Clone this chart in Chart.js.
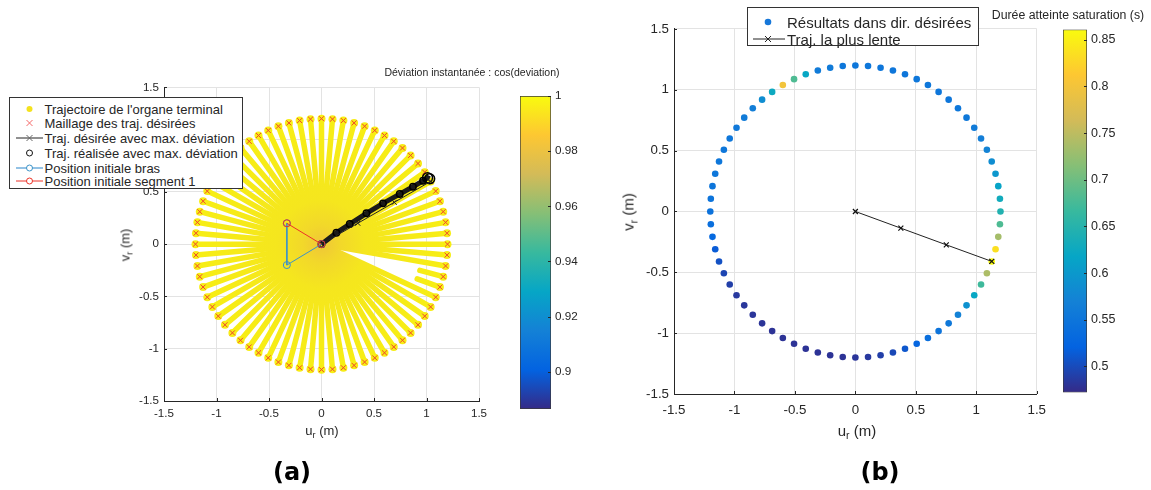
<!DOCTYPE html>
<html>
<head>
<meta charset="utf-8">
<script src="https://cdn.jsdelivr.net/npm/chart.js@4.4.1/dist/chart.umd.min.js"></script>
<style>
  body { margin: 0; background: #fff; }
  #fig { position: relative; width: 1151px; height: 490px; overflow: hidden; background: #fff;
         font-family: "Liberation Sans", Arial, sans-serif; color: #262626; }
  #fig canvas { position: absolute; }
  .txt { position: absolute; white-space: nowrap; line-height: 1; }
  .legend { position: absolute; background: #fff; border: 1px solid #333; box-sizing: border-box; z-index: 5; }
  .legend .row { position: absolute; left: 0; right: 0; }
  .legend svg { position: absolute; left: 0; }
  .legend span { position: absolute; white-space: nowrap; line-height: 1; transform: translateY(-50%); }
  sub { font-size: 70%; vertical-align: -0.35em; line-height: 0; }
  .panel { position: absolute; font-family: "DejaVu Sans", sans-serif; font-weight: bold; font-size: 24px;
           transform: translate(-50%, -50%); color: #000; }
</style>
</head>
<body>
<div id="fig">
  <canvas id="axA" width="370" height="351" style="left:124px;top:75px"></canvas>
  <canvas id="cbA" width="76" height="335" style="left:520px;top:85px"></canvas>
  <canvas id="axB" width="420" height="406" style="left:634px;top:16px"></canvas>
  <canvas id="cbB" width="84" height="386" style="left:1063px;top:18px"></canvas>

  <div class="txt" style="left:472px;top:72px;font-size:10.5px;transform:translate(-50%,-50%)">Déviation instantanée : cos(deviation)</div>
  <div class="txt" style="left:1068px;top:15px;font-size:12.3px;transform:translate(-50%,-50%)">Durée atteinte saturation (s)</div>

  <div class="txt" style="left:322px;top:430px;font-size:13px;transform:translate(-50%,-50%)">u<sub>r</sub> (m)</div>
  <div class="txt" style="left:125px;top:245px;font-size:13px;transform:translate(-50%,-50%) rotate(-90deg)">v<sub>r</sub> (m)</div>
  <div class="txt" style="left:857px;top:430px;font-size:15px;transform:translate(-50%,-50%)">u<sub>r</sub> (m)</div>
  <div class="txt" style="left:628px;top:212px;font-size:15px;transform:translate(-50%,-50%) rotate(-90deg)">v<sub>r</sub> (m)</div>

  <div class="panel" style="left:292px;top:472px">(a)</div>
  <div class="panel" style="left:880px;top:472px">(b)</div>

  <div class="legend" id="legA" style="left:9px;top:97px;width:234px;height:92px;font-size:13px"></div>
  <div class="legend" id="legB" style="left:747px;top:7px;width:232px;height:39px;font-size:15px"></div>
</div>

<script>
// ---- data ----
const axisTicks = [-1.5, -1, -0.5, 0, 0.5, 1, 1.5];
const axisTickLabels = ['-1.5', '-1', '-0.5', '0', '0.5', '1', '1.5'];

// directions of the desired trajectories (deg) and radius of the mesh
const dirAngles = [0, 5, 10, 15, 20, 25, 30, 35, 40, 45, 50, 55, 60, 65, 70, 75, 80, 85,
  90, 95, 100, 105, 110, 115, 120, 125, 130, 135, 140, 145, 150, 155, 160, 165, 170, 175,
  180, 185, 190, 195, 200, 205, 210, 215, 220, 225, 230, 235, 240, 245, 250, 255, 260, 265,
  270, 275, 280, 285, 290, 295, 300, 305, 310, 315, 320, 325, 330, 335, 340, 345, 350, 355];
const meshRadius = 1.2;
// directions whose realised trajectory only shows near the end
const gapDirs = [340, 345];
const gapStartRadius = 0.97;

// (a) trajectory with max deviation
const desiredU = [0, 0.346, 0.693, 1.039];
const desiredV = [0, 0.2, 0.4, 0.6];
const realisedU = [0, 0.142, 0.269, 0.428, 0.586, 0.745, 0.871, 0.967, 1.01, 1.03];
const realisedV = [0, 0.109, 0.192, 0.295, 0.39, 0.479, 0.549, 0.606, 0.635, 0.625];
const armU = [-0.33, -0.33, 0];
const armV = [0.2, -0.2, 0];
const seg1U = [-0.33, 0];
const seg1V = [0.2, 0];

const cbarATicks = [0.9, 0.92, 0.94, 0.96, 0.98, 1];
const cbarALabels = ['0.9', '0.92', '0.94', '0.96', '0.98', '1'];
const cbarARange = [0.8865, 1];

// (b) time to reach saturation per direction (s), same order as dirAngles
const durations = [0.645, 0.63, 0.615, 0.598, 0.585, 0.572, 0.565, 0.56, 0.555, 0.553, 0.552, 0.552,
  0.553, 0.553, 0.552, 0.552, 0.552, 0.553, 0.553, 0.553, 0.56, 0.56, 0.62, 0.68, 0.80, 0.625,
  0.585, 0.565, 0.56, 0.555, 0.553, 0.553, 0.553, 0.553, 0.55, 0.548, 0.545, 0.54, 0.53, 0.515,
  0.505, 0.495, 0.49, 0.485, 0.483, 0.482, 0.481, 0.48, 0.48, 0.48, 0.48, 0.48, 0.48, 0.48,
  0.482, 0.485, 0.49, 0.498, 0.51, 0.525, 0.54, 0.548, 0.555, 0.57, 0.59, 0.62, 0.67, 0.74,
  0.861, 0.835, 0.735, 0.68];
const slowU = [0, 0.376, 0.752, 1.128];
const slowV = [0, -0.137, -0.274, -0.41];

const cbarBTicks = [0.5, 0.55, 0.6, 0.65, 0.7, 0.75, 0.8, 0.85];
const cbarBLabels = ['0.5', '0.55', '0.6', '0.65', '0.7', '0.75', '0.8', '0.85'];
const cbarBRange = [0.472, 0.861];

// ---- helpers ----
const FONT = '"Liberation Sans", Arial, sans-serif';
const INK = '#262626';
const PARULA = [[53,42,135],[3,99,225],[20,129,214],[6,166,198],[56,185,158],
                [134,191,118],[211,187,88],[253,199,50],[249,251,14]];

function parula(t) {
  t = Math.min(1, Math.max(0, t));
  const p = t * (PARULA.length - 1);
  const i = Math.min(PARULA.length - 2, Math.floor(p));
  const f = p - i, a = PARULA[i], b = PARULA[i + 1];
  return 'rgb(' + a.map((c, k) => Math.round(c + (b[k] - c) * f)).join(',') + ')';
}

const rad = d => d * Math.PI / 180;
const pts = (us, vs) => us.map((u, i) => ({ x: u, y: vs[i] }));

// MATLAB style ticks pointing inside the axes
const innerTicks = {
  id: 'innerTicks',
  afterDraw(chart) {
    const { ctx, chartArea: a, scales: { x, y } } = chart;
    ctx.save();
    ctx.strokeStyle = INK;
    ctx.lineWidth = 1;
    ctx.beginPath();
    x.ticks.forEach(t => {
      const px = Math.round(x.getPixelForValue(t.value)) + 0.5;
      ctx.moveTo(px, a.bottom); ctx.lineTo(px, a.bottom - 3);
    });
    y.ticks.forEach(t => {
      const py = Math.round(y.getPixelForValue(t.value)) + 0.5;
      ctx.moveTo(a.left, py); ctx.lineTo(a.left + 3, py);
    });
    ctx.stroke();
    ctx.restore();
  }
};

function makeAxes(id, datasets, o) {
  const axis = (isX) => ({
    type: 'linear',
    min: -1.5, max: 1.5,
    afterBuildTicks: s => { s.ticks = axisTicks.map(v => ({ value: v })); },
    afterFit: s => { if (isX) s.height = o.xh; else s.width = 40; },
    ticks: {
      callback: (v, i) => axisTickLabels[i],
      font: { family: FONT, size: o.fs },
      color: INK,
      padding: isX ? o.xpad : 5,
      maxRotation: 0,
      autoSkip: false
    },
    grid: { color: '#E3E3E3', drawTicks: false },
    border: { color: INK }
  });
  return new Chart(document.getElementById(id), {
    type: 'scatter',
    data: { datasets },
    options: {
      responsive: false,
      animation: false,
      devicePixelRatio: 1,
      layout: { padding: { top: o.top, right: o.right, left: 0, bottom: 0 } },
      plugins: { legend: { display: false }, tooltip: { enabled: false } },
      scales: { x: axis(true), y: axis(false) }
    },
    plugins: [innerTicks]
  });
}

function makeColorbar(id, range, ticks, labels, fs, w) {
  const cbTicks = {
    id: 'cbTicks',
    afterDraw(chart) {
      const { ctx, chartArea: a, scales: { y } } = chart;
      ctx.save();
      ctx.strokeStyle = INK;
      ctx.beginPath();
      y.ticks.forEach(t => {
        const py = Math.round(y.getPixelForValue(t.value)) + 0.5;
        ctx.moveTo(a.right, py); ctx.lineTo(a.right - 3, py);
      });
      ctx.stroke();
      ctx.restore();
    }
  };
  const grad = (ctx) => {
    const a = ctx.chart.chartArea;
    if (!a) return '#888';
    const g = ctx.chart.ctx.createLinearGradient(0, a.bottom, 0, a.top);
    PARULA.forEach((c, i) => g.addColorStop(i / (PARULA.length - 1), 'rgb(' + c.join(',') + ')'));
    return g;
  };
  return new Chart(document.getElementById(id), {
    type: 'bar',
    data: {
      labels: [''],
      datasets: [{
        data: [range],
        backgroundColor: grad,
        borderColor: '#3a3a3a',
        borderWidth: 1,
        borderSkipped: false,
        barPercentage: 1,
        categoryPercentage: 1
      }]
    },
    options: {
      responsive: false,
      animation: false,
      devicePixelRatio: 1,
      layout: { padding: { top: 10, bottom: 10, left: 0, right: 0 } },
      plugins: { legend: { display: false }, tooltip: { enabled: false } },
      scales: {
        x: { display: false },
        y: {
          position: 'right',
          min: range[0], max: range[1],
          afterBuildTicks: s => { s.ticks = ticks.map(v => ({ value: v })); },
          afterFit: s => { s.width = w; },
          ticks: { callback: (v, i) => labels[i], font: { family: FONT, size: fs }, color: INK, padding: 4 },
          grid: { drawOnChartArea: false, drawTicks: false },
          border: { display: false }
        }
      }
    },
    plugins: [cbTicks]
  });
}

// ---- (a) ----
function trajColor(ctx) {
  const chart = ctx.chart;
  if (!chart.chartArea) return '#F6E81C';
  const cx = chart.scales.x.getPixelForValue(0), cy = chart.scales.y.getPixelForValue(0);
  const r = chart.scales.x.getPixelForValue(meshRadius) - cx;
  const g = chart.ctx.createRadialGradient(cx, cy, 0, cx, cy, r);
  g.addColorStop(0, '#EFC638');
  g.addColorStop(0.15, '#F2D82A');
  g.addColorStop(0.35, '#F5E61E');
  g.addColorStop(1, '#F7EE14');
  return g;
}

const dsA = dirAngles.map(d => {
  const r0 = gapDirs.includes(d) ? gapStartRadius : 0;
  return {
    showLine: true,
    data: [
      { x: r0 * Math.cos(rad(d)), y: r0 * Math.sin(rad(d)) },
      { x: meshRadius * Math.cos(rad(d)), y: meshRadius * Math.sin(rad(d)) }
    ],
    borderColor: trajColor,
    borderWidth: 5.5,
    borderCapStyle: 'round',
    pointRadius: 0,
    order: 10
  };
});
dsA.push({
  data: dirAngles.map(d => ({ x: meshRadius * Math.cos(rad(d)), y: meshRadius * Math.sin(rad(d)) })),
  pointStyle: 'circle', pointRadius: 4, pointBackgroundColor: '#F7EE14', pointBorderWidth: 0, order: 6
});
dsA.push({
  data: dirAngles.map(d => ({ x: meshRadius * Math.cos(rad(d)), y: meshRadius * Math.sin(rad(d)) })),
  pointStyle: 'crossRot', pointRadius: 3.5, borderColor: '#F2432E', borderWidth: 1, order: 5
});
dsA.push({
  data: pts(realisedU, realisedV), showLine: true,
  borderColor: '#1a1a1a', borderWidth: 5,
  pointStyle: 'circle', pointRadius: realisedU.map((u, i) => i >= realisedU.length - 2 ? 5 : 3.2),
  pointBorderColor: '#000', pointBackgroundColor: 'rgba(0,0,0,0)', pointBorderWidth: 1.5, order: 4
});
dsA.push({
  data: pts(desiredU, desiredV), showLine: true,
  borderColor: '#222', borderWidth: 1,
  pointStyle: 'crossRot', pointRadius: 3.5, pointBorderColor: '#222', order: 3
});
dsA.push({
  data: pts(armU, armV), showLine: true,
  borderColor: '#3C93C8', borderWidth: 1,
  pointStyle: 'circle', pointRadius: 3.5, pointBorderColor: '#3C93C8',
  pointBackgroundColor: 'rgba(0,0,0,0)', order: 2
});
dsA.push({
  data: pts(seg1U, seg1V), showLine: true,
  borderColor: '#EC3328', borderWidth: 1,
  pointStyle: 'circle', pointRadius: 3.5, pointBorderColor: '#EC3328',
  pointBackgroundColor: 'rgba(0,0,0,0)', order: 1
});
makeAxes('axA', dsA, { top: 12.3, right: 15, xh: 25, fs: 11.6, xpad: 6 });
makeColorbar('cbA', cbarARange, cbarATicks, cbarALabels, 11.7, 45);

// ---- (b) ----
const span = cbarBRange[1] - cbarBRange[0];
const dsB = [
  {
    data: pts(slowU, slowV), showLine: true,
    borderColor: '#222', borderWidth: 1,
    pointStyle: 'crossRot', pointRadius: 3.5, pointBorderColor: '#111', pointBorderWidth: 1.2, order: 1
  },
  {
    data: dirAngles.map(d => ({ x: meshRadius * Math.cos(rad(d)), y: meshRadius * Math.sin(rad(d)) })),
    pointRadius: 3.3, borderWidth: 0,
    backgroundColor: durations.map(v => parula((v - cbarBRange[0]) / span)),
    order: 2
  }
];
makeAxes('axB', dsB, { top: 12.3, right: 14, xh: 28, fs: 13.3, xpad: 8 });
makeColorbar('cbB', cbarBRange, cbarBTicks, cbarBLabels, 12.5, 60);

// ---- legends ----
function legend(id, rows, textLeft) {
  const box = document.getElementById(id);
  rows.forEach(r => {
    const row = document.createElement('div');
    row.className = 'row';
    row.style.top = r.y + 'px';
    row.innerHTML = '<svg width="38" height="14" style="top:-7px">' + r.icon + '</svg>' +
      '<span style="left:' + textLeft + 'px">' + r.label + '</span>';
    box.appendChild(row);
  });
}
const xMark = (cx, c) => `<path d="M${cx-3} 4L${cx+3} 10M${cx-3} 10L${cx+3} 4" stroke="${c}" stroke-width="1"/>`;
legend('legA', [
  { y: 11, label: "Trajectoire de l'organe terminal", icon: '<circle cx="19.5" cy="7" r="3" fill="#F4E21E"/>' },
  { y: 25, label: 'Maillage des traj. désirées', icon: xMark(19.5, '#F56A6A') },
  { y: 40, label: 'Traj. désirée avec max. déviation', icon: '<line x1="6" y1="7" x2="33" y2="7" stroke="#222"/>' + xMark(19.5, '#666') },
  { y: 54.5, label: 'Traj. réalisée avec max. déviation', icon: '<circle cx="19.5" cy="7" r="3" fill="none" stroke="#111"/>' },
  { y: 69.5, label: 'Position initiale bras', icon: '<line x1="6" y1="7" x2="33" y2="7" stroke="#6FAEDC" stroke-width="1.5"/><circle cx="19.5" cy="7" r="3" fill="#fff" stroke="#3C93C8"/>' },
  { y: 83, label: 'Position initiale segment 1', icon: '<line x1="6" y1="7" x2="33" y2="7" stroke="#EC3328"/><circle cx="19.5" cy="7" r="3" fill="#fff" stroke="#EC3328"/>' }
], 34.5);
legend('legB', [
  { y: 13.5, label: 'Résultats dans dir. désirées', icon: '<circle cx="20" cy="7" r="3.3" fill="#1677D9"/>' },
  { y: 30.5, label: 'Traj. la plus lente', icon: '<line x1="5" y1="7" x2="37" y2="7" stroke="#222"/>' + xMark(20, '#222') }
], 39);
</script>
</body>
</html>
